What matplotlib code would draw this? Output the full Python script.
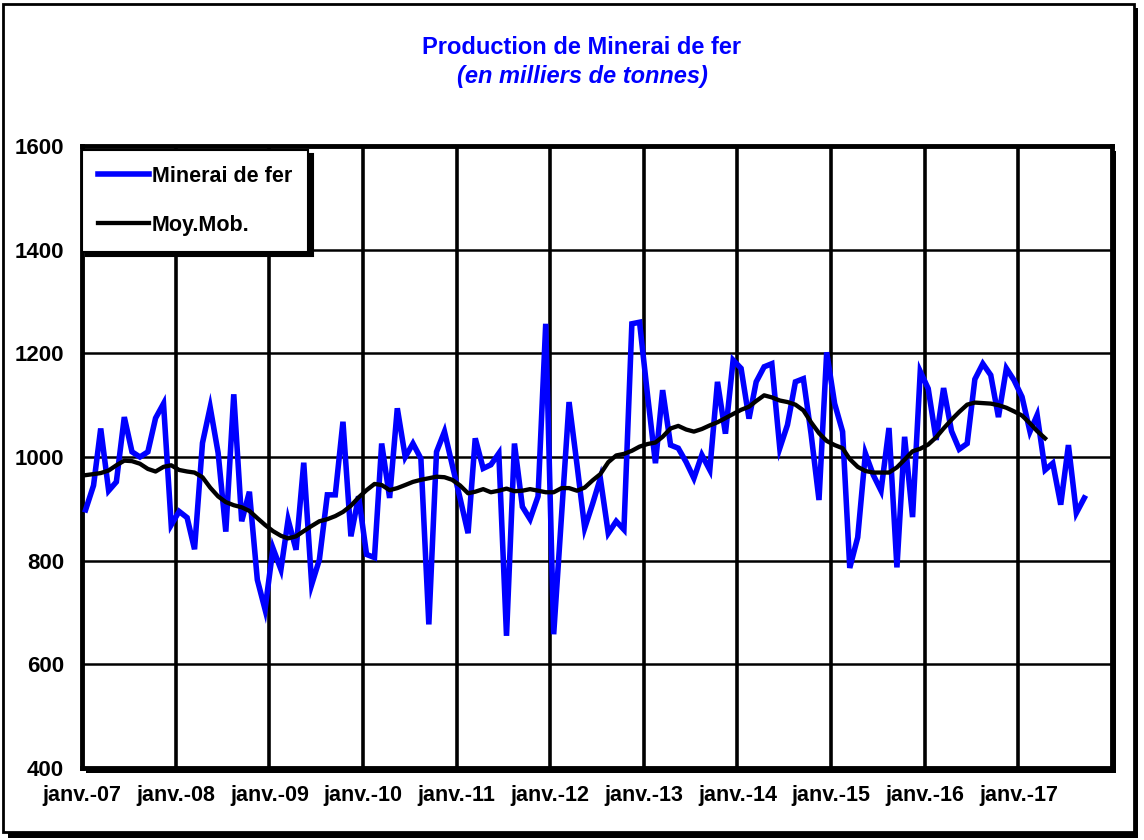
import matplotlib
matplotlib.use("Agg")
import matplotlib.pyplot as plt
import matplotlib.patches as mpatches
import pandas as pd
import numpy as np

plt.rcParams['font.family'] = ['Liberation Sans', 'DejaVu Sans']

# ---------------- data ----------------
minerai = [
    898, 945, 1055, 935, 952, 1077, 1010, 1000, 1010, 1075, 1103, 869,      # 2007
    895, 883, 822, 1027, 1096, 1008, 856, 1121, 876, 933, 763, 706,        # 2008
    824, 783, 879, 821, 989, 754, 802, 927, 927, 1068, 847, 924,           # 2009
    812, 806, 1026, 921, 1094, 1000, 1026, 997, 677, 1010, 1049, 985,      # 2010
    920, 853, 1036, 978, 985, 1007, 655, 1026, 904, 880, 924, 1257,        # 2011
    658, 890, 1106, 985, 863, 910, 959, 853, 876, 860, 1257, 1260,         # 2012
    1120, 988, 1129, 1023, 1017, 990, 959, 1004, 975, 1145, 1045, 1187,    # 2013
    1171, 1074, 1145, 1174, 1180, 1017, 1062, 1145, 1151, 1045, 917, 1202, # 2014
    1103, 1049, 786, 845, 1007, 965, 935, 1056, 787, 1039, 884, 1165,      # 2015
    1132, 1033, 1133, 1050, 1015, 1026, 1150, 1180, 1158, 1077, 1171, 1148,# 2016
    1116, 1049, 1081, 975, 988, 908, 1023, 892, 921,                       # 2017
]

moy_mob = [
    965, 967, 969, 974, 984, 993, 992, 987, 977, 972, 981, 984,
    975, 972, 970, 961, 941, 924, 913, 907, 903, 896, 882, 869,
    857, 848, 843, 847, 857, 867, 876, 880, 886, 894, 906, 922,
    936, 948, 946, 936, 940, 946, 952, 956, 959, 962, 961, 956,
    945, 930, 933, 938, 932, 935, 939, 934, 935, 938, 935, 932,
    932, 940, 940, 935, 941, 955, 967, 990, 1003, 1006, 1012, 1020,
    1025, 1028, 1039, 1055, 1060, 1053, 1049, 1054, 1061, 1067, 1075, 1083,
    1091, 1097, 1108, 1119, 1115, 1109, 1106, 1101, 1090, 1067, 1046, 1031,
    1023, 1017, 996, 981, 973, 970, 970, 970, 980, 995, 1011, 1016,
    1024, 1038, 1055, 1072, 1087, 1101, 1105, 1104, 1103, 1100, 1095, 1088,
    1080, 1065, 1050, 1036,
]

tick_labels = ['janv.-07', 'janv.-08', 'janv.-09', 'janv.-10', 'janv.-11', 'janv.-12',
               'janv.-13', 'janv.-14', 'janv.-15', 'janv.-16', 'janv.-17']
y_ticks = [400, 600, 800, 1000, 1200, 1400, 1600]

dates = pd.date_range(start='2007-01-01', periods=len(minerai), freq='MS') + pd.Timedelta(days=14)
dates_mm = dates[:len(moy_mob)]
tick_dates = pd.date_range(start='2007-01-01', periods=len(tick_labels), freq='YS')
grid_dates = pd.date_range(start='2008-01-01', periods=10, freq='YS')

# ---------------- figure ----------------
fig = plt.figure(figsize=(11.44, 8.4), dpi=100)
fig.patch.set_facecolor('white')

W, H = 1144, 840
shadow = mpatches.Rectangle((8 / W, 1 - 838 / H), 1130 / W, 830 / H, transform=fig.transFigure,
                            facecolor='black', edgecolor='none', zorder=0)
frame = mpatches.Rectangle((3 / W, 1 - 832 / H), 1131 / W, 828 / H, transform=fig.transFigure,
                           facecolor='white', edgecolor='black', linewidth=2, zorder=1)
fig.patches.extend([shadow, frame])

ax = fig.add_axes([82 / W, 1 - 768 / H, (1112 - 82) / W, (768 - 146) / H])
ax.set_zorder(3)

ax_shadow = mpatches.Rectangle(((82 + 4) / W, 1 - (768 + 5) / H), (1112 - 82) / W, (768 - 146) / H,
                               transform=fig.transFigure, facecolor='black', edgecolor='none', zorder=2)
fig.patches.append(ax_shadow)

ax.set_facecolor('white')
ax.set_xlim(pd.Timestamp('2007-01-01'), pd.Timestamp('2018-01-01'))
ax.set_ylim(400, 1600)

for g in grid_dates:
    ax.axvline(g, color='black', linewidth=2.6, zorder=1)
for yv in y_ticks[1:-1]:
    ax.axhline(yv, color='black', linewidth=1.8, zorder=1)

ax.plot(dates, minerai, color='#0000FF', linewidth=4.0, zorder=3,
        solid_joinstyle='miter', label='Minerai de fer')
ax.plot(dates_mm, moy_mob, color='black', linewidth=3.1, zorder=4, label='Moy.Mob.')

ax.set_xticks(tick_dates)
ax.set_xticklabels(tick_labels, fontsize=15.5, fontweight='bold')
ax.set_yticks(y_ticks)
ax.set_yticklabels([str(v) for v in y_ticks], fontsize=16, fontweight='bold')
ax.tick_params(axis='both', length=0)
ax.tick_params(axis='y', pad=13)
ax.tick_params(axis='x', pad=12)

for s in ax.spines.values():
    s.set_linewidth(3.5)
    s.set_color('black')

leg = ax.legend(loc='upper left', bbox_to_anchor=(0.0, 0.994), frameon=True, fancybox=False,
                prop={'weight': 'bold', 'size': 15.5}, handlelength=2.35,
                labelspacing=1.3, borderpad=0.75, handletextpad=0.15, borderaxespad=0.0,
                shadow={'color': 'black', 'alpha': 1.0, 'ox': 3, 'oy': -3})
leg.get_frame().set_edgecolor('black')
leg.get_frame().set_linewidth(1.5)
leg.set_zorder(10)

fig.text(582 / W, 1 - 47 / H, 'Production de Minerai de fer', color='#0000FF',
         fontsize=17, fontweight='bold', ha='center', va='center')
fig.text(582 / W, 1 - 76 / H, '(en milliers de tonnes)', color='#0000FF',
         fontsize=17, fontweight='bold', style='italic', ha='center', va='center')

fig.savefig('out.png', dpi=100, facecolor='white')
